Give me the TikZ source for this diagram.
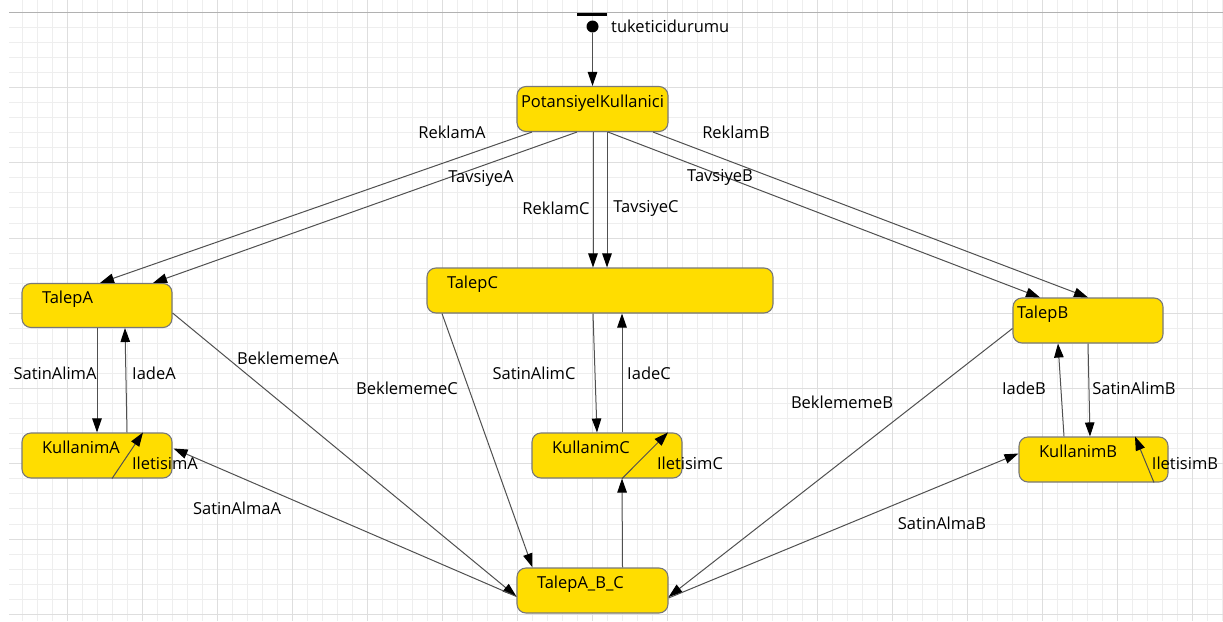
\documentclass[tikz,border=0pt]{standalone}
\usepackage{fontspec}
\setmainfont{Open Sans}
\usetikzlibrary{arrows.meta,calc}
\definecolor{gold}{RGB}{255,221,0}
\definecolor{boxborder}{RGB}{120,120,120}
\definecolor{edgegray}{RGB}{80,80,80}
\definecolor{gridminor}{RGB}{238,238,238}
\definecolor{gridmajor}{RGB}{222,222,222}
\tikzset{
  st/.style={draw=boxborder, line width=1.1pt, fill=gold, rounded corners=9pt,
    align=left, inner xsep=20pt, inner ysep=2pt, text height=12pt, text depth=16pt,
    minimum height=45pt},
  tr/.style={draw=edgegray, line width=1pt, -{Triangle[length=14pt,width=9.5pt,color=black,fill=black]}},
  lbl/.style={inner sep=0pt, text=black},
}
\begin{document}
\begin{tikzpicture}[x=1pt,y=-1pt,font=\fontsize{16.5}{19}\selectfont]
\useasboundingbox (0,0) rectangle (1223,621);
\fill[white] (0,0) rectangle (1223,621);
% grid
\foreach \i in {0,...,80} { \draw[gridminor, line width=1pt] ({22+15*\i},0) -- ({22+15*\i},621); }
\foreach \j in {0,...,40} { \draw[gridminor, line width=1pt] (9,{12.3+15.05*\j}) -- (1223,{12.3+15.05*\j}); }
\foreach \i in {0,...,15} { \draw[gridmajor, line width=1pt] ({67+75*\i},0) -- ({67+75*\i},621); }
\foreach \j in {0,...,8} { \draw[gridmajor, line width=1pt] (9,{12.3+75.25*\j}) -- (1223,{12.3+75.25*\j}); }
\draw[gridmajor!80!black, line width=1pt] (9,12.3) -- (1223,12.3);

% initial state
\node[fill=black, minimum width=30pt, minimum height=3pt, inner sep=0pt] (bar) at (592,14.5) {};
\node[circle, fill=black, minimum size=12pt, inner sep=0pt] (init) at (592.5,26.5) {};
\node[lbl, anchor=west] (initlbl) at (611,26.5) {tuketicidurumu};

% states
\node[st, inner xsep=4pt, minimum width=151pt, text width=143pt] (PK) at (592.5,109) {PotansiyelKullanici};
\node[st, minimum width=150pt, text width=110pt, minimum height=44pt] (TalepA) at (97,305.5) {TalepA};
\node[st, minimum width=150pt, text width=110pt] (KullanimA) at (97,455.5) {KullanimA};
\node[st, minimum width=346pt, text width=306pt] (TalepC) at (600,290.5) {TalepC};
\node[st, minimum width=150pt, text width=110pt] (KullanimC) at (607,455.5) {KullanimC};
\node[st, inner xsep=4pt, minimum width=150pt, text width=142pt] (TalepB) at (1088,320.5) {TalepB};
\node[st, minimum width=149pt, text width=109pt] (KullanimB) at (1093.5,459.5) {KullanimB};
\node[st, minimum width=151pt, text width=111pt] (TABC) at (592.5,590.5) {TalepA\_B\_C};

% transitions
\draw[tr] (init) -- (PK.north);
\draw[tr] ($(PK.south)+(-60.5,0)$) -- ($(TalepA.north)+(3,0)$) node[lbl, at={(452,132)}] {ReklamA};
\draw[tr] ($(PK.south)+(-15.5,0)$) -- ($(TalepA.north)+(56,0)$) node[lbl, at={(481,178)}] {TavsiyeA};
\draw[tr] ($(PK.south)+(0.5,0)$) -- ($(TalepC.north)+(-7,0)$) node[lbl, at={(556,208)}] {ReklamC};
\draw[tr] ($(PK.south)+(14.5,0)$) -- ($(TalepC.north)+(7,0)$) node[lbl, at={(646,208)}] {TavsiyeC};
\draw[tr] ($(PK.south)+(60.5,0)$) -- ($(TalepB.north)+(0,0)$) node[lbl, at={(736,132)}] {ReklamB};
\draw[tr] ($(PK.south)+(15.5,0)$) -- ($(TalepB.north)+(-48,0)$) node[lbl, at={(720,177)}] {TavsiyeB};

\draw[tr] (TalepA.south) -- (KullanimA.north) node[lbl, at={(55,373)}] {SatinAlimA};
\draw[tr] ($(KullanimA.north)+(30,0)$) -- ($(TalepA.south)+(28,0)$) node[lbl, at={(154,373)}] {IadeA};
\draw[tr] ($(KullanimA.south)+(15,0)$) -- ($(KullanimA.north)+(46,0)$) node[lbl, at={(165,463)}] {IletisimA};
\draw[tr] ($(TalepA.east)+(0,7.5)$) -- ($(TABC.west)+(0,6)$) node[lbl, at={(288,358)}] {BeklememeA};
\draw[tr] ($(TABC.west)+(0,6)$) -- ($(KullanimA.east)+(1,-7)$) node[lbl, at={(237,508)}] {SatinAlmaA};

\draw[tr] ($(TalepC.south)+(-158,0)$) -- ($(TABC.north)+(-60,0)$) node[lbl, at={(407,388)}] {BeklememeC};
\draw[tr] ($(TalepC.south)+(-7,0)$) -- ($(KullanimC.north)+(-10,0)$) node[lbl, at={(534,373)}] {SatinAlimC};
\draw[tr] ($(KullanimC.north)+(15,0)$) -- ($(TalepC.south)+(22,0)$) node[lbl, at={(649,373)}] {IadeC};
\draw[tr] ($(KullanimC.south)+(15,0)$) -- ($(KullanimC.north)+(61,0)$) node[lbl, at={(690,463)}] {IletisimC};
\draw[tr] ($(TABC.north)+(30,0)$) -- ($(KullanimC.south)+(15,0)$);

\draw[tr] ($(TalepB.west)+(0,8)$) -- ($(TABC.east)+(0,6.5)$) node[lbl, at={(842,402)}] {BeklememeB};
\draw[tr] ($(TABC.east)+(0,7.5)$) -- ($(KullanimB.west)+(0,-6)$) node[lbl, at={(942,523)}] {SatinAlmaB};
\draw[tr] ($(KullanimB.north)+(-29.5,0)$) -- ($(TalepB.south)+(-30,0)$) node[lbl, at={(1024,388)}] {IadeB};
\draw[tr] (TalepB.south) -- ($(KullanimB.north)+(-3.5,0)$) node[lbl, at={(1134,388)}] {SatinAlimB};
\draw[tr] ($(KullanimB.south)+(60.5,0)$) -- ($(KullanimB.north)+(41.5,0)$) node[lbl, at={(1185,463)}] {IletisimB};
\end{tikzpicture}
\end{document}
